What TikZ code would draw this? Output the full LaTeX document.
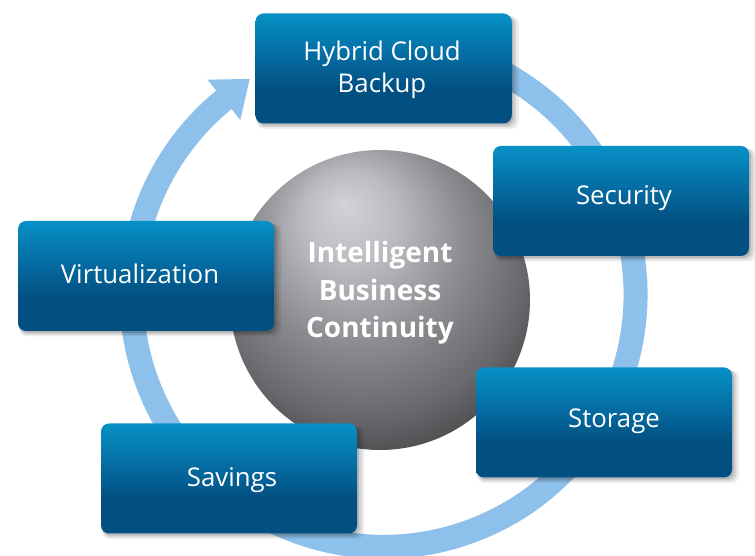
\documentclass[tikz,border=0pt]{standalone}
\usepackage{fontspec}
\setmainfont{Open Sans}
\usetikzlibrary{shadows}
\definecolor{ringblue}{RGB}{141,192,234}
\definecolor{boxtop}{RGB}{6,145,198}
\definecolor{boxmid}{RGB}{5,108,162}
\definecolor{boxbot}{RGB}{2,80,130}
\definecolor{sph0}{RGB}{210,211,215}
\definecolor{sph1}{RGB}{186,187,191}
\definecolor{sph2}{RGB}{138,139,143}
\definecolor{sph3}{RGB}{104,104,108}
\definecolor{sph4}{RGB}{62,62,64}
\definecolor{sph5}{RGB}{24,24,24}
\pgfdeclareverticalshading{boxshade}{100bp}{color(0bp)=(boxbot); color(25bp)=(boxbot); color(41bp)=(boxbot); color(56bp)=(boxmid); color(75bp)=(boxtop); color(100bp)=(boxtop)}
\pgfdeclareradialshading{sphereshade}{\pgfpoint{-6bp}{16bp}}{color(0bp)=(sph0); color(8bp)=(sph1); color(18bp)=(sph2); color(27bp)=(sph3); color(35bp)=(sph4); color(42bp)=(sph5); color(50bp)=(sph5)}
\tikzset{
  ring/.style={draw=ringblue, line width=24pt},
  bluebox/.style={rounded corners=8pt, minimum width=256pt, minimum height=110pt, inner sep=0pt,
    shading=boxshade,
    general shadow={shadow xshift=4pt, shadow yshift=-4pt, shadow scale=1.025, fill=black, opacity=0.07},
    general shadow={shadow xshift=3pt, shadow yshift=-3pt, shadow scale=1.012, fill=black, opacity=0.10},
    general shadow={shadow xshift=2pt, shadow yshift=-2pt, fill=black, opacity=0.14}},
  boxtext/.style={text=white, font=\fontsize{25.8}{32}\selectfont, align=center, inner sep=0pt},
  coretext/.style={text=white, font=\bfseries\fontsize{28}{37.5}\selectfont, align=center, inner sep=0pt},
  core/.style={circle, minimum size=300pt, inner sep=0pt, shading=sphereshade}
}
\begin{document}
\begin{tikzpicture}[x=1pt,y=1pt]
\useasboundingbox (0,0) rectangle (755,556);
% cycle ring with arrowhead
\coordinate (rc) at (383.5,261.2);
\begin{scope}[shift={(rc)}]
  \draw[ring] (110:252) arc[start angle=110, end angle=-231, radius=252];
  \fill[ringblue] (129.3:278) -- (121.8:254) -- (129.3:226) -- cycle;
\end{scope}
% central sphere
\node[core] (sphere) at (380,256) {};
\node[coretext] (coreT) at (380,263.2) {Intelligent\\Business\\Continuity};
% boxes
\node[bluebox] (hcb) at (383.5,487.5) {};
\node[bluebox] (sec) at (621,355) {};
\node[bluebox] (virt) at (146,280) {};
\node[bluebox] (stor) at (604,133.5) {};
\node[bluebox] (sav) at (229,77.5) {};
% labels
\node[boxtext] (hcbT) at (382,486.6) {Hybrid Cloud\\Backup};
\node[boxtext, anchor=base] (secT) at (624,351) {Security};
\node[boxtext, anchor=base] (virtT) at (140,272) {Virtualization};
\node[boxtext, anchor=base] (storT) at (614,128) {Storage};
\node[boxtext, anchor=base] (savT) at (232,69) {Savings};
\end{tikzpicture}
\end{document}
